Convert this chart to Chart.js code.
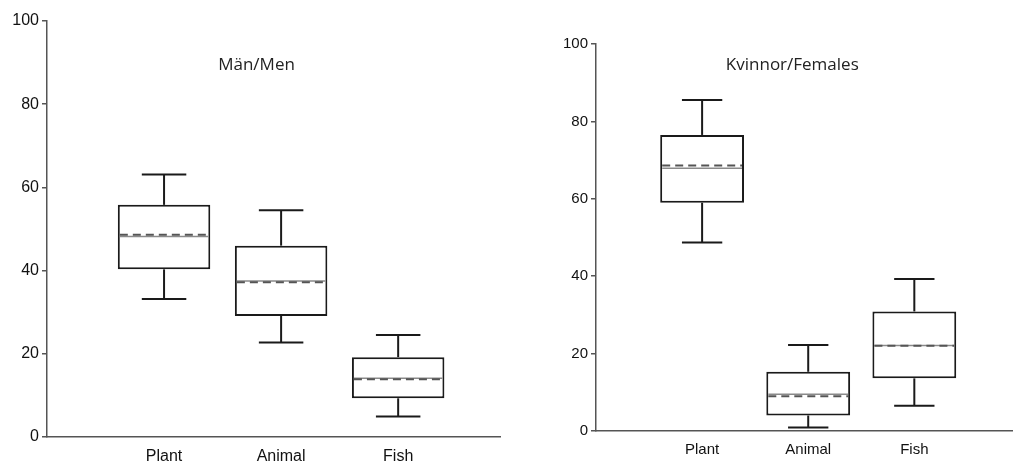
<!DOCTYPE html>
<html>
<head>
<meta charset="utf-8">
<script src="https://cdn.jsdelivr.net/npm/chart.js@4/dist/chart.umd.min.js"></script>
<style>
  html, body { margin: 0; padding: 0; background: #fff; }
  #wrap { position: relative; width: 1013px; height: 462px; overflow: hidden; }
  canvas { position: absolute; top: 0; }
  #chart-men { left: 0; }
  #chart-women { left: 520px; }
</style>
</head>
<body>
<div id="wrap">
  <canvas id="chart-men" width="510" height="462"></canvas>
  <canvas id="chart-women" width="493" height="462"></canvas>
</div>
<script>
const categories = ['Plant', 'Animal', 'Fish'];

// Män/Men
const menMin    = [33.2, 22.7, 4.9];
const menQ1     = [40.3, 29.1, 9.3];
const menMedian = [48.2, 37.5, 14.1];
const menMean   = [48.6, 37.2, 13.9];
const menQ3     = [55.8, 46.0, 19.2];
const menMax    = [63.1, 54.5, 24.5];

// Kvinnor/Females
const womenMin    = [48.7, 0.9, 6.5];
const womenQ1     = [59.0, 4.0, 13.6];
const womenMedian = [67.9, 9.5, 22.1];
const womenMean   = [68.6, 9.0, 22.0];
const womenQ3     = [76.5, 15.3, 30.9];
const womenMax    = [85.5, 22.2, 39.3];

const yTicks = [0, 20, 40, 60, 80, 100];

// whiskers, median and mean lines + title inside the plot
const boxExtras = {
  id: 'boxExtras',
  afterDatasetsDraw(chart, args, opts) {
    const { ctx, scales: { x, y } } = chart;
    const s = opts.stats;
    const line = (x1, y1, x2, y2) => {
      ctx.beginPath();
      ctx.moveTo(x1, y1);
      ctx.lineTo(x2, y2);
      ctx.stroke();
    };
    ctx.save();
    s.q1.forEach((q1, i) => {
      const v = i + 1;
      const cx = x.getPixelForValue(v);
      const capL = x.getPixelForValue(v - opts.capHalf);
      const capR = x.getPixelForValue(v + opts.capHalf);
      const boxL = x.getPixelForValue(v - opts.boxHalf);
      const boxR = x.getPixelForValue(v + opts.boxHalf);

      ctx.setLineDash([]);
      ctx.strokeStyle = '#1a1a1a';
      ctx.lineWidth = 2;
      line(cx, y.getPixelForValue(s.q3[i]), cx, y.getPixelForValue(s.max[i]));
      line(capL, y.getPixelForValue(s.max[i]), capR, y.getPixelForValue(s.max[i]));
      line(cx, y.getPixelForValue(q1), cx, y.getPixelForValue(s.min[i]));
      line(capL, y.getPixelForValue(s.min[i]), capR, y.getPixelForValue(s.min[i]));

      // median
      ctx.strokeStyle = '#8a8a8a';
      ctx.lineWidth = 1.5;
      line(boxL + 2, y.getPixelForValue(s.median[i]), boxR - 2, y.getPixelForValue(s.median[i]));

      // mean
      ctx.setLineDash([8, 5]);
      ctx.strokeStyle = '#555';
      ctx.lineWidth = 2;
      line(boxL + 2, y.getPixelForValue(s.mean[i]), boxR - 2, y.getPixelForValue(s.mean[i]));
    });
    ctx.setLineDash([]);
    ctx.font = '17px "Open Sans"';
    ctx.fillStyle = '#222';
    ctx.textAlign = 'center';
    ctx.textBaseline = 'middle';
    ctx.fillText(opts.title, x.getPixelForValue(opts.titleAt), opts.titleY);
    ctx.restore();
  }
};

function makeChart(id, cfg) {
  const ctx = document.getElementById(id).getContext('2d');
  return new Chart(ctx, {
    type: 'bar',
    data: {
      datasets: [{
        data: categories.map((c, i) => ({ x: i + 1, y: [cfg.q1[i], cfg.q3[i]] })),
        backgroundColor: '#fff',
        borderColor: '#1a1a1a',
        borderWidth: 2,
        borderSkipped: false,
        categoryPercentage: 1,
        barPercentage: 0.79
      }]
    },
    options: {
      responsive: false,
      animation: false,
      layout: { padding: cfg.padding },
      plugins: {
        legend: { display: false },
        tooltip: { enabled: false },
        boxExtras: {
          stats: cfg,
          title: cfg.title,
          titleAt: cfg.titleAt,
          titleY: 65,
          boxHalf: 0.395,
          capHalf: 0.19
        }
      },
      scales: {
        x: {
          type: 'linear',
          min: 0,
          max: cfg.xMax,
          offset: false,
          grid: { display: false, drawTicks: false, offset: false },
          border: { display: true, color: '#555', width: 1.5 },
          ticks: {
            autoSkip: false,
            maxRotation: 0,
            padding: cfg.xPad,
            color: '#111',
            font: { family: '"Liberation Sans", Arial', size: cfg.fontSize },
            callback: (v) => categories[v - 1] || ''
          },
          afterBuildTicks: (s) => { s.ticks = categories.map((c, i) => ({ value: i + 1 })); },
          afterFit: (s) => { s.height = cfg.xHeight; }
        },
        y: {
          min: 0,
          max: 100,
          grid: { drawOnChartArea: false, drawTicks: true, tickLength: 5, color: '#555', lineWidth: 1.5 },
          border: { display: true, color: '#555', width: 1.5 },
          ticks: {
            padding: 3,
            color: '#111',
            font: { family: '"Liberation Sans", Arial', size: cfg.fontSize }
          },
          afterBuildTicks: (s) => { s.ticks = yTicks.map(v => ({ value: v })); },
          afterFit: (s) => { s.width = cfg.yWidth; }
        }
      }
    },
    plugins: [boxExtras]
  });
}

makeChart('chart-men', {
  title: 'Män/Men', titleAt: 1.79,
  min: menMin, q1: menQ1, median: menMedian, mean: menMean, q3: menQ3, max: menMax,
  padding: { top: 21, right: 10, bottom: 0, left: 0 },
  xMax: 3.87, xHeight: 25, yWidth: 47, fontSize: 16, xPad: 10
});

makeChart('chart-women', {
  title: 'Kvinnor/Females', titleAt: 1.85,
  min: womenMin, q1: womenQ1, median: womenMedian, mean: womenMean, q3: womenQ3, max: womenMax,
  padding: { top: 44, right: 0, bottom: 0, left: 0 },
  xMax: 3.93, xHeight: 31, yWidth: 76, fontSize: 15, xPad: 10
});
</script>
</body>
</html>
